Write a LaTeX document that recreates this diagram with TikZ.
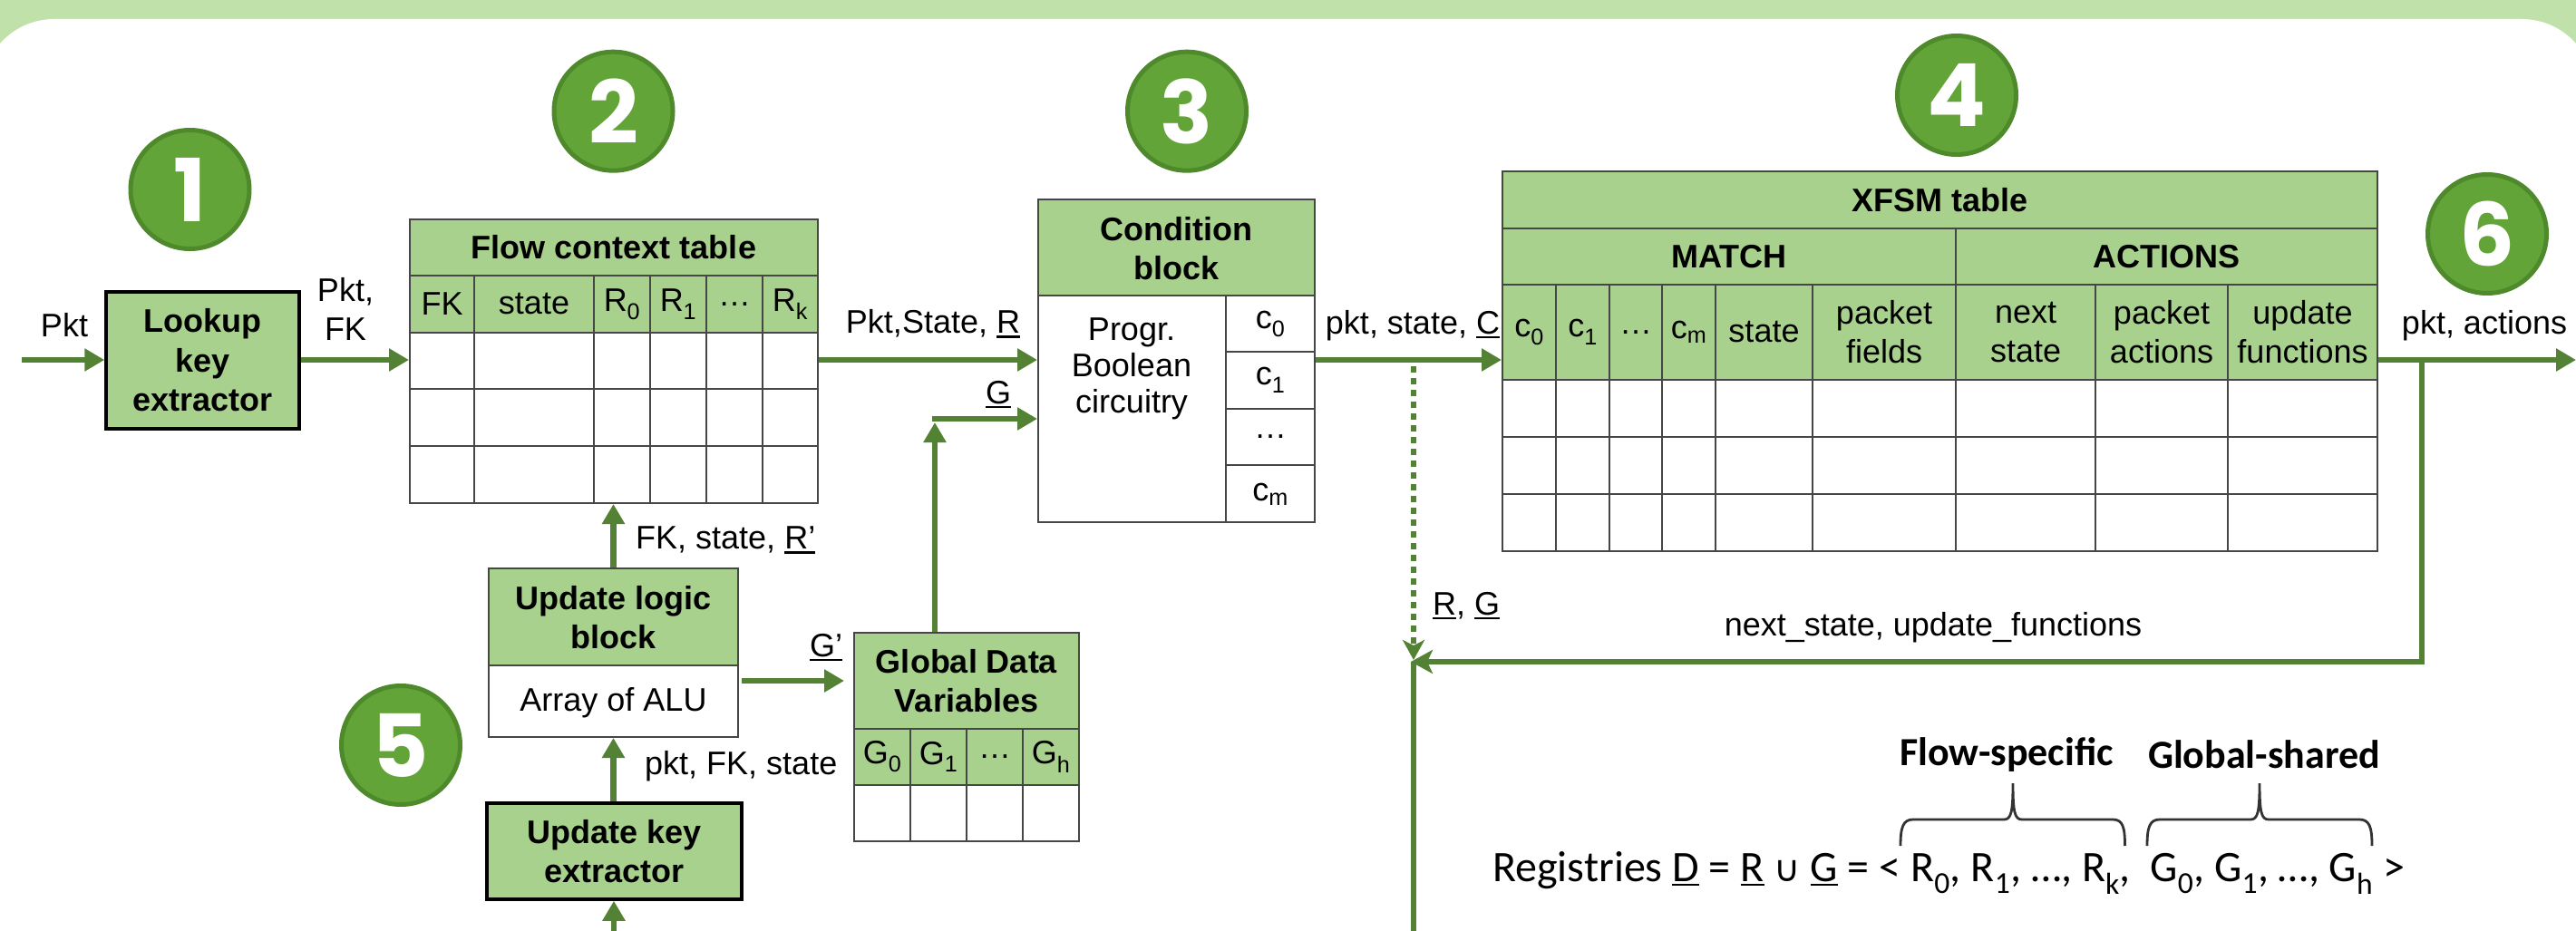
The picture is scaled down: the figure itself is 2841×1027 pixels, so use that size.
\documentclass[tikz,border=0pt]{standalone}
\usepackage{fontspec}
\setmainfont{Liberation Sans}
\newfontfamily\calfont{Carlito}
\newfontfamily\popfont{Poppins}
\newfontfamily\djvfont{DejaVu Sans}
\usetikzlibrary{arrows.meta,calc}
\definecolor{bandgreen}{RGB}{192,226,170}
\definecolor{cellgreen}{RGB}{169,209,142}
\definecolor{arrowgreen}{RGB}{84,130,53}
\definecolor{circfill}{RGB}{99,164,56}
\definecolor{circline}{RGB}{78,137,44}
\definecolor{gridgray}{RGB}{70,70,70}
\newcommand\uln[1]{\setbox0\hbox{#1}\rlap{\rule[-5pt]{\wd0}{2.5pt}}\box0\relax}
\begin{document}
\begin{tikzpicture}[x=1pt,y=-1pt,
  lbl/.style={font=\fontsize{36}{43}\selectfont, inner sep=0pt, align=center},
  ttl/.style={font=\bfseries\fontsize{36}{43}\selectfont, inner sep=0pt, align=center},
  outline/.style={draw=gridgray, line width=2pt, inner sep=0pt},
  keybox/.style={draw=black, line width=3.5pt, fill=cellgreen, inner sep=0pt, align=center, font=\bfseries\fontsize{36}{43.5}\selectfont},
  grid/.style={draw=gridgray, line width=2pt},
  conn/.style={draw=arrowgreen, line width=6.5pt, -{Triangle[length=22pt,width=24pt]}},
  fbconn/.style={draw=arrowgreen, line width=6.5pt, -{Stealth[length=24pt,width=26pt,inset=6pt]}},
  plainln/.style={draw=arrowgreen, line width=6.5pt},
  dotconn/.style={draw=arrowgreen, line width=6.5pt, dash pattern=on 6.5pt off 6.5pt, -{Stealth[length=22pt,width=24pt,inset=6pt]}},
  numcirc/.style={circle, fill=circfill, draw=circline, line width=5pt, minimum size=131pt, inner sep=0pt, text=white, font=\popfont\bfseries\fontsize{96}{96}\selectfont},
  bracepath/.style={draw=black!80, line width=2.8pt},
]
\useasboundingbox (0,0) rectangle (2841,1027);
% background panel
\fill[bandgreen] (0,0) rectangle (2841,1027);
\fill[white, rounded corners=80pt] (-20,21) rectangle (2861,1200);

% ---------- fills ----------
\fill[cellgreen] (452,242) rectangle (902,367);
\fill[cellgreen] (1145,220) rectangle (1450,325.5);
\fill[cellgreen] (1657,189) rectangle (2622,419);
\fill[cellgreen] (539,627) rectangle (814,733.5);
\fill[cellgreen] (942,698) rectangle (1190,866);

% ---------- blocks ----------
\node[keybox, minimum width=213pt, minimum height=151pt] (lookup) at (223.5,397.5) {Lookup\\key\\extractor};
\node[outline, minimum width=450pt, minimum height=313pt] (fct) at (677,398.5) {};
\node[outline, minimum width=305pt, minimum height=356pt] (cond) at (1297.5,398) {};
\node[outline, minimum width=965pt, minimum height=419pt] (xfsm) at (2139.5,398.5) {};
\node[outline, minimum width=275pt, minimum height=186pt] (ulb) at (676.5,720) {};
\node[keybox, minimum width=281pt, minimum height=106pt] (uke) at (677.5,939) {Update key\\extractor};
\node[outline, minimum width=248pt, minimum height=230pt] (gdv) at (1066,813) {};

% ---------- flow context table grid ----------
\foreach \yy in {304,367,429,492} \draw[grid] (452,\yy) -- (902,\yy);
\foreach \xx in {523,655,717,779,841} \draw[grid] (\xx,304) -- (\xx,555);
\node[ttl] (fcttitle) at (677,273) {Flow context table};
\node[lbl] (hfk) at (487.5,335.5) {FK};
\node[lbl] (hst) at (589,335.5) {state};
\node[lbl] (hr0) at (686,335.5) {R\textsubscript{0}};
\node[lbl] (hr1) at (748,335.5) {R\textsubscript{1}};
\node[lbl] (hrd) at (810,335.5) {…};
\node[lbl] (hrk) at (871.5,335.5) {R\textsubscript{k}};

% ---------- condition block grid ----------
\draw[grid] (1145,325.5) -- (1450,325.5);
\draw[grid] (1352,325.5) -- (1352,576);
\foreach \yy in {388,450.5,513} \draw[grid] (1352,\yy) -- (1450,\yy);
\node[ttl] (condtitle) at (1297.5,274.5) {Condition\\block};
\node[lbl, font=\fontsize{36}{40}\selectfont] (progr) at (1248,406.5) {Progr.\\Boolean\\circuitry};
\node[lbl] (cc0) at (1401,357) {c\textsubscript{0}};
\node[lbl] (cc1) at (1401,419) {c\textsubscript{1}};
\node[lbl] (ccd) at (1401,482) {…};
\node[lbl] (ccm) at (1401,545) {c\textsubscript{m}};

% ---------- XFSM table grid ----------
\foreach \yy in {252,314,419,482,545} \draw[grid] (1657,\yy) -- (2622,\yy);
\draw[grid] (2157,252) -- (2157,608);
\foreach \xx in {1716,1775,1833,1892,1999,2311,2457} \draw[grid] (\xx,314) -- (\xx,608);
\node[ttl] (xtitle) at (2139.5,220.5) {XFSM table};
\node[ttl] (xmatch) at (1907,283) {MATCH};
\node[ttl] (xact) at (2389.5,283) {ACTIONS};
\node[lbl] (xc0) at (1686.5,366.5) {c\textsubscript{0}};
\node[lbl] (xc1) at (1745.5,366.5) {c\textsubscript{1}};
\node[lbl] (xcd) at (1804,366.5) {…};
\node[lbl] (xcm) at (1862.5,366.5) {c\textsubscript{m}};
\node[lbl] (xst) at (1945.5,366.5) {state};
\node[lbl] (xpf) at (2078,366.5) {packet\\fields};
\node[lbl] (xns) at (2234,366.5) {next\\state};
\node[lbl] (xpa) at (2384,366.5) {packet\\actions};
\node[lbl] (xuf) at (2539.5,366.5) {update\\functions};

% ---------- update logic block ----------
\draw[grid] (539,733.5) -- (814,733.5);
\node[ttl] (ulbtitle) at (676.5,681.5) {Update logic\\block};
\node[lbl] (alu) at (676.5,775) {Array of ALU};

% ---------- global data variables ----------
\draw[grid] (942,803.5) -- (1190,803.5);
\draw[grid] (942,866) -- (1190,866);
\foreach \xx in {1004,1066,1128} \draw[grid] (\xx,803.5) -- (\xx,928);
\node[ttl] (gdvtitle) at (1066,751) {Global Data\\Variables};
\node[lbl] (g0) at (973,835) {G\textsubscript{0}};
\node[lbl] (g1) at (1035,835) {G\textsubscript{1}};
\node[lbl] (gd) at (1097,835) {…};
\node[lbl] (gh) at (1159,835) {G\textsubscript{h}};

% ---------- numbered circles ----------
\node[numcirc] (n1) at (209.5,209) {1};
\node[numcirc] (n2) at (676.5,122.7) {2};
\node[numcirc] (n3) at (1309,122.7) {3};
\node[numcirc] (n4) at (2158,105) {4};
\node[numcirc] (n5) at (442,822) {5};
\node[numcirc] (n6) at (2743,258) {6};

% ---------- connectors ----------
\coordinate (inA) at (24,397);
\coordinate (outP) at (2841,397);
\coordinate (fbT) at (2671,397);
\coordinate (fbB) at (2671,730);
\coordinate (mrg) at (1556,730);
\coordinate (dotT) at (1559,404);
\coordinate (dotE) at (1559,728);
\coordinate (mrgV) at (1559,730);
\coordinate (botC) at (1559,1040);
\coordinate (botU) at (677,1040);
\coordinate (gp) at (818,751);
\coordinate (gpE) at (931,751);
\coordinate (gup) at (1031,462);
\coordinate (gtip) at (1031,466);

\draw[conn] (inA) -- (inA -| lookup.west);
\draw[conn] (lookup.east |- inA) -- (inA -| fct.west);
\draw[conn] (inA -| fct.east) -- (inA -| cond.west);
\draw[conn] (inA -| cond.east) -- (inA -| xfsm.west);
\draw[conn] (inA -| xfsm.east) -- (outP);
\draw[plainln] (mrgV) -- (botC);
\draw[fbconn, line join=miter] (fbT) -- (fbB) -- (mrg);
\draw[dotconn] (dotT) -- (dotE);
\draw[conn] (ulb.north) -- (ulb.north |- fct.south);
\draw[conn] (ulb.south |- uke.north) -- (ulb.south);
\draw[conn] (botU) -- (botU |- uke.south);
\draw[conn] (gp) -- (gpE);
\draw[conn] (gdv.north -| gup) -- (gtip);
\draw[conn] ([xshift=-3.25pt]gup) -- (gup -| cond.west);

% ---------- connector labels ----------
\node[lbl] (lpkt) at (71,359) {Pkt};
\node[lbl] (lpktfk) at (381,341) {Pkt,\\FK};
\node[lbl] (lpsr) at (1029,357) {Pkt,State, \uln{R}};
\node[lbl] (lg) at (1101,435) {\uln{G}};
\node[lbl] (lpsc) at (1558,359) {pkt, state, \uln{C}};
\node[lbl] (lpa) at (2740,359) {pkt, actions};
\node[lbl] (lrg) at (1617,668) {\uln{R}, \uln{G}};
\node[lbl] (lnsuf) at (2132,692) {next\_state, update\_functions};
\node[lbl, anchor=west] (lfsr) at (701,596) {FK, state, \uln{R’}};
\node[lbl, anchor=west] (lpfs) at (711,845) {pkt, FK, state};
\node[lbl] (lgp) at (911,714) {\uln{G’}};

% ---------- registries formula ----------
\node[inner sep=0pt, anchor=west, font=\calfont\fontsize{48}{56}\selectfont] (reg) at (1646,963)
  {Registries \uln{D} = \uln{R} {\djvfont\fontsize{40}{48}\selectfont ∪} \uln{G} = < R\textsubscript{0}, R\textsubscript{1}, …, R\textsubscript{k},\ \ G\textsubscript{0}, G\textsubscript{1}, …, G\textsubscript{h} >};
\node[inner sep=0pt, font=\calfont\bfseries\fontsize{44}{50}\selectfont] (flowsp) at (2213,832) {Flow-specific};
\node[inner sep=0pt, font=\calfont\bfseries\fontsize{44}{50}\selectfont] (globsh) at (2497,832) {Global-shared};

\draw[bracepath] (2096,933) .. controls (2096,912) and (2099,904) .. (2110,904) -- (2210,904)
  .. controls (2218,904) and (2220,896) .. (2220,864) .. controls (2220,896) and (2222,904) .. (2230,904)
  -- (2330,904) .. controls (2341,904) and (2343.5,912) .. (2343.5,933);
\draw[bracepath] (2368,933) .. controls (2368,912) and (2371,904) .. (2382,904) -- (2482,904)
  .. controls (2490,904) and (2492,896) .. (2492,864) .. controls (2492,896) and (2494,904) .. (2502,904)
  -- (2602,904) .. controls (2613,904) and (2616,912) .. (2616,933);
\end{tikzpicture}
\end{document}
